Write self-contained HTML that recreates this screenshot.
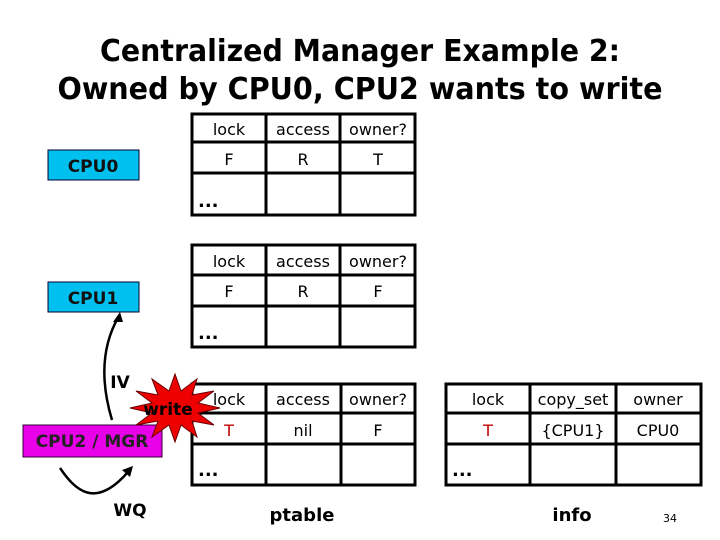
<!DOCTYPE html>
<html><head><meta charset="utf-8"><style>
html,body{margin:0;padding:0;background:#fff;}
svg{display:block;font-family:"DejaVu Sans","Liberation Sans",sans-serif;}
</style></head><body>
<svg width="720" height="540" viewBox="0 0 720 540" xmlns="http://www.w3.org/2000/svg">
<text x="360" y="61" text-anchor="middle" font-size="30" font-weight="bold" textLength="520" lengthAdjust="spacingAndGlyphs">Centralized Manager Example 2:</text>
<text x="360" y="99" text-anchor="middle" font-size="30" font-weight="bold" textLength="605" lengthAdjust="spacingAndGlyphs">Owned by CPU0, CPU2 wants to write</text>

<g fill="none" stroke="#000" stroke-width="3">
<rect x="192" y="114" width="223" height="101"/>
<line x1="192" y1="142" x2="415" y2="142"/><line x1="192" y1="173" x2="415" y2="173"/>
<line x1="266" y1="114" x2="266" y2="215"/><line x1="340" y1="114" x2="340" y2="215"/>
<rect x="192" y="245" width="223" height="102"/>
<line x1="192" y1="275" x2="415" y2="275"/><line x1="192" y1="306" x2="415" y2="306"/>
<line x1="266" y1="245" x2="266" y2="347"/><line x1="340" y1="245" x2="340" y2="347"/>
<rect x="192" y="384" width="223" height="101"/>
<line x1="192" y1="413" x2="415" y2="413"/><line x1="192" y1="444" x2="415" y2="444"/>
<line x1="266" y1="384" x2="266" y2="485"/><line x1="341" y1="384" x2="341" y2="485"/>
<rect x="446" y="384" width="255" height="101"/>
<line x1="446" y1="413" x2="701" y2="413"/><line x1="446" y1="444" x2="701" y2="444"/>
<line x1="530" y1="384" x2="530" y2="485"/><line x1="616" y1="384" x2="616" y2="485"/>
</g>

<g font-size="16" text-anchor="middle" fill="#000">
<text x="229" y="135">lock</text><text x="303" y="135">access</text><text x="378" y="135">owner?</text>
<text x="229" y="165">F</text><text x="303" y="165">R</text><text x="378" y="165">T</text>
<text x="229" y="267">lock</text><text x="303" y="267">access</text><text x="378" y="267">owner?</text>
<text x="229" y="297">F</text><text x="303" y="297">R</text><text x="378" y="297">F</text>
<text x="303" y="405">access</text><text x="378" y="405">owner?</text>
<text x="303" y="436">nil</text><text x="378" y="436">F</text>
<text x="488" y="405">lock</text><text x="573" y="405">copy_set</text><text x="658" y="405">owner</text>
<text x="488" y="436" fill="#c00000">T</text><text x="573" y="436">{CPU1}</text><text x="658" y="436">CPU0</text>
</g>
<g font-size="18" font-weight="bold">
<text x="198" y="207">...</text><text x="198" y="339">...</text><text x="198" y="476">...</text><text x="452" y="476">...</text>
</g>

<rect x="48" y="150" width="91" height="30" fill="#00c0f0" stroke="#003" stroke-width="1"/>
<text x="93" y="172" text-anchor="middle" font-size="17" font-weight="bold" fill="#111">CPU0</text>
<rect x="48" y="282" width="91" height="30" fill="#00c0f0" stroke="#003" stroke-width="1"/>
<text x="93" y="304" text-anchor="middle" font-size="17" font-weight="bold" fill="#111">CPU1</text>
<rect x="23" y="425" width="139" height="32" fill="#e800e8" stroke="#303" stroke-width="1"/>
<text x="92" y="447" text-anchor="middle" font-size="17" font-weight="bold" fill="#222">CPU2 / MGR</text>

<path d="M112 420 C100 380 102 345 119 316" fill="none" stroke="#000" stroke-width="2.5"/>
<polygon points="120,312 113,322 123,322" fill="#000"/>
<path d="M60 468 C75 490 95 510 128 472" fill="none" stroke="#000" stroke-width="2.5"/>
<polygon points="133,466 122,470 130,477" fill="#000"/>
<text x="120" y="388" text-anchor="middle" font-size="17" font-weight="bold">IV</text>
<text x="130" y="516" text-anchor="middle" font-size="17" font-weight="bold">WQ</text>

<polygon points="220,408 198,403 214,391 192,395 197,379 181,391 175,374 169,391 152,379 158,395 136,391 152,403 130,408 152,413 136,425 158,421 152,437 169,425 175,442 181,425 197,437 192,421 214,425 198,413" fill="#ee0000" stroke="#600" stroke-width="1"/>
<text x="229" y="405" text-anchor="middle" font-size="16">lock</text>
<text x="229" y="436" text-anchor="middle" font-size="16" fill="#c00000">T</text>
<text x="168" y="415" text-anchor="middle" font-size="17" font-weight="bold">write</text>

<text x="302" y="521" text-anchor="middle" font-size="18" font-weight="bold">ptable</text>
<text x="572" y="521" text-anchor="middle" font-size="18" font-weight="bold">info</text>
<text x="670" y="522" text-anchor="middle" font-size="11">34</text>
</svg>
</body></html>
